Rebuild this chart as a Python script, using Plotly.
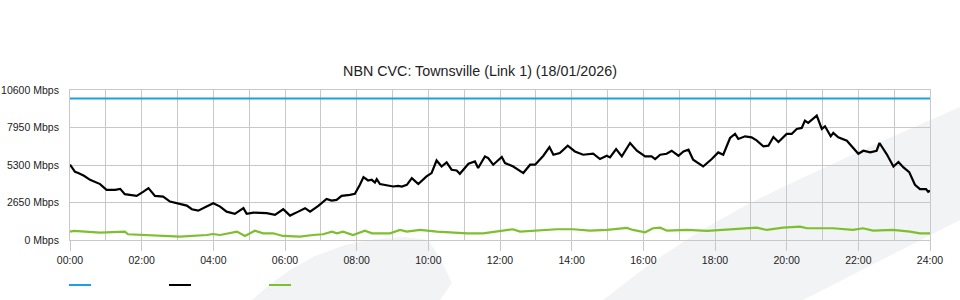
import plotly.graph_objects as go

# ---------------- data ----------------
title_text = "NBN CVC: Townsville (Link 1) (18/01/2026)"

capacity_hours = [0, 24]
capacity_mbps = [10000, 10000]

traffic_hours = [0.00, 0.14, 0.23, 0.39, 0.56, 0.70, 0.84, 1.02, 1.26, 1.40, 1.53, 1.67, 1.86, 2.04, 2.19,
                 2.37, 2.60, 2.79, 2.98, 3.26, 3.40, 3.58, 3.81, 4.00, 4.19, 4.37, 4.60, 4.84, 4.93, 5.12,
                 5.49, 5.72, 5.95, 6.14, 6.37, 6.56, 6.70, 6.93, 7.16, 7.30, 7.44, 7.58, 7.81, 7.95, 8.09,
                 8.19, 8.32, 8.42, 8.51, 8.56, 8.65, 8.84, 9.02, 9.16, 9.26, 9.40, 9.54, 9.72, 9.95, 10.09,
                 10.23, 10.37, 10.51, 10.65, 10.79, 10.88, 11.12, 11.30, 11.39, 11.58, 11.67, 11.81, 12.05,
                 12.14, 12.37, 12.65, 12.84, 12.98, 13.21, 13.38, 13.49, 13.67, 13.89, 14.09, 14.32, 14.60,
                 14.79, 14.98, 15.07, 15.24, 15.40, 15.63, 15.82, 16.05, 16.23, 16.33, 16.47, 16.65, 16.79,
                 16.98, 17.12, 17.26, 17.39, 17.67, 17.91, 18.09, 18.23, 18.42, 18.56, 18.65, 18.84, 19.02,
                 19.16, 19.35, 19.49, 19.63, 19.77, 20.00, 20.14, 20.28, 20.42, 20.51, 20.60, 20.84, 20.98,
                 21.07, 21.23, 21.30, 21.44, 21.68, 22.00, 22.14, 22.33, 22.51, 22.59, 22.79, 22.98, 23.12,
                 23.26, 23.42, 23.58, 23.72, 23.89, 23.95, 24.00]
traffic_mbps = [5320, 4820, 4730, 4540, 4250, 4110, 3950, 3545, 3545, 3615, 3240, 3190, 3120, 3400, 3665,
                3120, 3070, 2715, 2600, 2430, 2175, 2075, 2360, 2600, 2360, 2005, 1845, 2250, 1845, 1935,
                1895, 1775, 2175, 1725, 2005, 2250, 2005, 2410, 2905, 2785, 2835, 3120, 3190, 3260, 3900,
                4445, 4205, 4255, 4065, 4305, 3950, 3850, 3780, 3830, 3780, 3900, 4375, 3950, 4490, 4730,
                5620, 5195, 5480, 4965, 4915, 4680, 5390, 5550, 5085, 5905, 5790, 5320, 5865,
                5440, 5195, 4730, 5320, 5320, 5955, 6570, 6025, 6145, 6665, 6260, 6025, 6095,
                5720, 5955, 5835, 6430, 5905, 6855, 6310, 5905, 5905, 5720, 6025, 6095, 6310,
                5955, 6260, 6380, 5670, 5195, 5720, 6190, 6025, 7210, 7495, 7140, 7325, 7255,
                7040, 6615, 6665, 7280, 6925, 7495, 7495, 7850, 7920, 8435, 8275, 8790, 7850,
                8035, 7325, 7565, 7255, 7020, 6095, 6310, 6190, 6310, 6855, 6075, 5195, 5510,
                5125, 4800, 3900, 3595, 3595, 3405, 3475]

green_hours = [0.00, 0.11, 0.84, 1.53, 1.62, 2.15, 3.07, 3.82, 3.99, 4.19, 4.66, 4.88, 5.16, 5.39, 5.67,
               5.94, 6.42, 6.78, 7.06, 7.31, 7.45, 7.62, 7.81, 7.90, 8.23, 8.43, 8.93, 9.21, 9.40, 9.77,
               10.24, 11.08, 11.53, 11.92, 12.36, 12.56, 13.12, 13.59, 14.04, 14.51, 14.99, 15.54, 15.71,
               16.05, 16.27, 16.47, 16.66, 17.22, 17.78, 18.14, 18.61, 19.17, 19.45, 19.90, 20.37, 20.57,
               20.93, 21.29, 21.85, 22.13, 22.41, 22.97, 23.44, 23.72, 24.00]
green_mbps = [590, 640, 520, 590, 405, 335, 235, 355, 425, 355, 590, 285, 660, 475, 475,
              285, 235, 355, 405, 590, 475, 590, 405, 355, 660, 475, 475, 710, 590, 710,
              590, 475, 475, 590, 760, 590, 710, 760, 760, 660, 710, 850, 710,
              545, 830, 870, 660, 710, 640, 710, 760, 870, 710, 870, 945, 830,
              830, 830, 710, 830, 660, 710, 590, 475, 475]

x_tick_vals = list(range(0, 25, 2))
x_tick_text = ["00:00", "02:00", "04:00", "06:00", "08:00", "10:00", "12:00",
               "14:00", "16:00", "18:00", "20:00", "22:00", "24:00"]
y_tick_vals = [0, 2650, 5300, 7950, 10600]
y_tick_text = ["0 Mbps", "2650 Mbps", "5300 Mbps", "7950 Mbps", "10600 Mbps"]

# ---------------- styling ----------------
BLUE = "#1ca0e0"
BLACK = "#000000"
GREEN = "#7dbf2e"
GRID = "#c8c8c8"
BG_SHAPE = "#f2f3f5"

W, H = 960, 300
ML, MR, MT, MB = 70, 30, 90, 60
PW, PH = W - ML - MR, H - MT - MB


def px(x):
    return (x - ML) / PW


def py(y):
    return (H - MB - y) / PH


def path_from(points):
    s = "M " + " L ".join(f"{px(a):.4f},{py(b):.4f}" for a, b in points) + " Z"
    return s


fig = go.Figure()
fig.add_trace(go.Scatter(x=capacity_hours, y=capacity_mbps, mode="lines",
                         line=dict(color=BLUE, width=2), hoverinfo="skip", showlegend=False))
fig.add_trace(go.Scatter(x=traffic_hours, y=traffic_mbps, mode="lines",
                         line=dict(color=BLACK, width=2.2), hoverinfo="skip", showlegend=False))
fig.add_trace(go.Scatter(x=green_hours, y=green_mbps, mode="lines",
                         line=dict(color=GREEN, width=2.2), hoverinfo="skip", showlegend=False))

shapes = []
# decorative background swooshes
blob = [(252, 300), (268, 286), (290, 270), (315, 256), (345, 245), (375, 239), (405, 237),
        (428, 240), (440, 258), (452, 283), (440, 300)]
band = [(603, 300), (650, 264), (700, 231), (750, 203), (800, 179), (880, 142), (960, 107),
        (960, 220), (803, 300)]
for pts in (blob, band):
    shapes.append(dict(type="path", xref="paper", yref="paper", path=path_from(pts),
                       fillcolor=BG_SHAPE, line=dict(width=0), layer="below"))

# legend swatches (no text in the reference)
for i, c in enumerate([BLUE, BLACK, GREEN]):
    x0 = 69 + 100 * i
    shapes.append(dict(type="line", xref="paper", yref="paper",
                       x0=px(x0), x1=px(x0 + 22), y0=py(285), y1=py(285),
                       line=dict(color=c, width=2)))

fig.update_layout(
    width=W, height=H,
    margin=dict(l=ML, r=MR, t=MT, b=MB, pad=0, autoexpand=False),
    paper_bgcolor="white",
    plot_bgcolor="rgba(0,0,0,0)",
    font=dict(family="Liberation Sans, Arial, sans-serif", size=10.5, color="#222222"),
    title=dict(text=title_text, x=0.5, xref="container", xanchor="center",
               y=1 - 71 / H, yref="container", yanchor="middle",
               font=dict(size=14.3, color="#222222")),
    shapes=shapes,
    showlegend=False,
    hovermode=False,
)

fig.update_xaxes(
    range=[0, 24], tickmode="array", tickvals=x_tick_vals, ticktext=x_tick_text,
    automargin=False,
    showgrid=True, gridcolor=GRID, gridwidth=1,
    ticks="outside", ticklen=10, tickcolor=GRID, tickwidth=1,
    showline=True, linecolor=GRID, linewidth=1, mirror=True,
    zeroline=False,
    minor=dict(dtick=1, tick0=0, showgrid=True, gridcolor=GRID, gridwidth=1, ticks=""),
    tickfont=dict(size=10.5, color="#222222"),
)
fig.update_yaxes(
    range=[0, 10600], tickmode="array", tickvals=y_tick_vals, ticktext=y_tick_text,
    automargin=False,
    showgrid=True, gridcolor=GRID, gridwidth=1,
    ticks="", ticklabelstandoff=8,
    showline=True, linecolor=GRID, linewidth=1, mirror=True,
    zeroline=False,
    tickfont=dict(size=10.5, color="#222222"),
)

fig.write_html("out.html")
